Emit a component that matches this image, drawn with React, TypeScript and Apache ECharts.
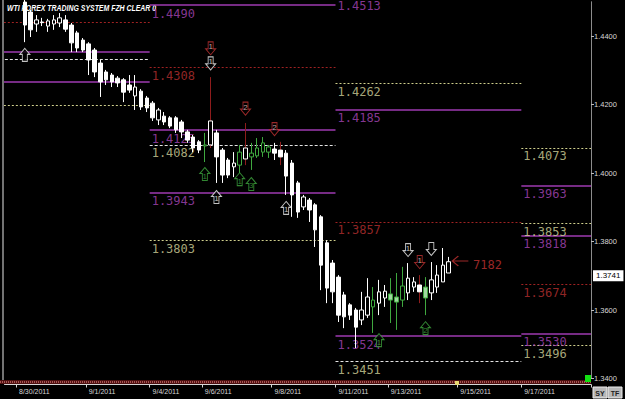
import React, { useEffect, useRef } from 'react';
import * as echarts from 'echarts';

// ---------- data ----------
const TITLE = 'WTI FOREX TRADING SYSTEM FZH CLEAR 0';
const CATEGORY_COUNT = 101; // 4h slots shown on the time axis
const CANDLE_START = 3; // slot of first candle

const opens = [1.4499,1.4470,1.4435,1.4441,1.4429,1.4435,1.4438,1.4447,1.4432,1.4409,
  1.4388,1.4377,1.4359,1.4321,1.4295,1.4286,1.4277,1.4272,1.4257,1.4225,
  1.4239,1.4219,1.4204,1.4155,1.4166,1.4161,1.4161,1.4149,1.4120,1.4105,
  1.4091,1.4082,1.4082,1.4117,1.4067,1.4038,1.4018,1.4023,1.4041,1.4058,
  1.4050,1.4061,1.4076,1.4070,1.4067,1.4058,1.4029,1.3971,1.3901,1.3921,
  1.3907,1.3872,1.3796,1.3737,1.3696,1.3644,1.3615,1.3600,1.3571,1.3585,
  1.3609,1.3620,1.3635,1.3647,1.3638,1.3629,1.3650,1.3667,1.3673,1.3667,
  1.3650,1.3667,1.3682,1.3708];
const closes = [1.4432,1.4418,1.4447,1.4439,1.4444,1.4447,1.4453,1.4420,1.4380,1.4365,
  1.4359,1.4330,1.4295,1.4266,1.4272,1.4266,1.4263,1.4236,1.4242,1.4251,
  1.4193,1.4190,1.4161,1.4184,1.4149,1.4137,1.4126,1.4120,1.4096,1.4073,
  1.4067,1.4079,1.4152,1.4047,1.3994,1.3994,1.4029,1.4061,1.4073,1.4047,
  1.4073,1.4088,1.4061,1.4058,1.4047,1.3991,1.3936,1.3886,1.3930,1.3892,
  1.3834,1.3731,1.3664,1.3653,1.3585,1.3580,1.3585,1.3550,1.3600,1.3638,
  1.3629,1.3653,1.3655,1.3629,1.3623,1.3670,1.3693,1.3682,1.3653,1.3635,
  1.3688,1.3702,1.3731,1.3741];
const lows = [1.4382,1.4397,1.4412,1.4429,1.4412,1.4418,1.4426,1.4412,1.4353,1.4353,
  1.4353,1.4286,1.4280,1.4222,1.4257,1.4251,1.4251,1.4207,1.4234,1.4184,
  1.4184,1.4178,1.4152,1.4140,1.4140,1.4131,1.4117,1.4102,1.4088,1.4061,
  1.4058,1.4032,1.4073,1.3971,1.3971,1.3985,1.3988,1.4000,1.4023,1.4009,
  1.4044,1.4047,1.4044,1.4038,1.4023,1.3936,1.3872,1.3869,1.3892,1.3857,
  1.3784,1.3658,1.3620,1.3620,1.3565,1.3547,1.3571,1.3489,1.3556,1.3577,
  1.3533,1.3585,1.3609,1.3562,1.3542,1.3609,1.3629,1.3653,1.3620,1.3585,
  1.3629,1.3650,1.3682,1.3708];
const highs = [1.4511,1.4476,1.4461,1.4453,1.4450,1.4461,1.4467,1.4461,1.4438,1.4415,
  1.4394,1.4382,1.4365,1.4330,1.4301,1.4292,1.4283,1.4277,1.4286,1.4286,
  1.4245,1.4225,1.4210,1.4190,1.4178,1.4166,1.4166,1.4155,1.4126,1.4111,
  1.4096,1.4117,1.4280,1.4126,1.4073,1.4044,1.4061,1.4082,1.4146,1.4088,
  1.4102,1.4105,1.4082,1.4088,1.4091,1.4067,1.4038,1.3977,1.3936,1.3927,
  1.3912,1.3877,1.3804,1.3746,1.3702,1.3653,1.3620,1.3606,1.3653,1.3693,
  1.3667,1.3688,1.3673,1.3693,1.3708,1.3726,1.3737,1.3696,1.3702,1.3696,
  1.3740,1.3731,1.3781,1.3755];
const greenCandles = [31, 37, 39, 40, 41, 42, 60, 63, 64, 65, 69];
const greenFilled = [63, 64, 69];
const redWickCandles = [32, 38, 44, 68];

const dateTickIdx = [2, 14, 25, 34, 46, 57, 66, 78, 89];
const dateTickLabels = ['8/30/2011', '9/1/2011', '9/4/2011', '9/6/2011', '9/8/2011',
  '9/11/2011', '9/13/2011', '9/15/2011', '9/17/2011'];

const Y_MIN = 1.34;
const Y_MAX = 1.45;
const Y_STEP = 0.02;

// weekly level segments (slot units)
const segStart = [-1.3, 24.5, 56.5, 88.5];
const segEnd = [24.5, 56.5, 88.5, 100.5];
const levelSeg = [0, 0, 0, 0, 0,
  1, 1, 1, 1, 1, 1,
  2, 2, 2, 2, 2, 2,
  3, 3, 3, 3, 3, 3, 3];
const levelPrice = [1.4441, 1.4353, 1.4333, 1.4266, 1.4199,
  1.4490, 1.4308, 1.4125, 1.4082, 1.3943, 1.3803,
  1.4513, 1.4262, 1.4185, 1.3857, 1.3524, 1.3451,
  1.4073, 1.3963, 1.3853, 1.3818, 1.3674, 1.3530, 1.3496];
const levelKind = ['red', 'purple', 'white', 'purple', 'yellow',
  'purple', 'red', 'purple', 'white', 'purple', 'yellow',
  'purple', 'yellow', 'purple', 'red', 'purple', 'white',
  'yellow', 'purple', 'yellow', 'purple', 'red', 'purple', 'yellow'];

const arrowIdx = [3, 35, 35, 41, 46, 34, 36, 40, 42, 48, 69, 73, 71, 72, 64];
const arrowPrice = [1.4345, 1.4364, 1.4320, 1.4188, 1.4128, 1.3997, 1.3930, 1.3982,
  1.3968, 1.3898, 1.3775, 1.3778, 1.3740, 1.3547, 1.3512];
const arrowDir = ['up', 'down', 'down', 'down', 'down', 'up', 'up', 'up', 'up', 'up',
  'down', 'down', 'down', 'up', 'up'];
const arrowColor = ['white', 'red', 'white', 'red', 'red', 'green', 'white', 'green',
  'green', 'white', 'white', 'white', 'red', 'green', 'green'];
const arrowDigit = ['', '1', '1', '2', '2', '1', '1', '1', '3', '1', '1', '', '1', '2', '1'];

const lastPrice = 1.3741;
const signalIdx = 78;
const signalPrice = 1.3743;
const signalText = '7182';

// ---------- styles ----------
const COL: Record<string, string> = {
  white: '#f2f2f2',
  red: '#c23232',
  green: '#3fa83f',
  purple: '#a43db6',
  yellow: '#d3d394',
};
const LINE_STYLE: Record<string, any> = {
  purple: { color: '#9e3ab0', width: 1.5, type: 'solid' },
  red: { color: '#a02222', width: 1, type: [2, 2] },
  yellow: { color: '#cfcf8c', width: 1, type: [2, 2] },
  white: { color: '#e4e4e4', width: 1, type: [3, 2] },
};
const LABEL_COLOR: Record<string, string> = {
  purple: '#a846b9',
  red: '#b83030',
  yellow: '#d4d49c',
  white: '#d4d49c',
};
const UP_ARROW = 'path://M5,0 L10,6 L7.5,6 L7.5,13 L2.5,13 L2.5,6 L0,6 Z';
const DOWN_ARROW = 'path://M2.5,0 L7.5,0 L7.5,7 L10,7 L5,13 L0,7 L2.5,7 Z';
const LEFT_ARROW = 'path://M6,0 L0,5 L6,10 M0,5 L16,5';
const LCD_FONT = 'DejaVu Sans Mono';

function buildOption() {
  const categories = Array.from({ length: CATEGORY_COUNT }, (_, i) => String(i));
  const labelMap = new Map<number, string>();
  dateTickIdx.forEach((k, j) => labelMap.set(k, dateTickLabels[j]));

  const candleData = opens.map((o, i) => {
    const c = closes[i];
    const isRed = redWickCandles.includes(i);
    const hi = isRed ? Math.max(o, c) : highs[i];
    const lo = isRed ? Math.min(o, c) : lows[i];
    const item: any = { value: [i + CANDLE_START, o, c, lo, hi] };
    if (greenCandles.includes(i)) {
      item.itemStyle = {
        borderColor: COL.green,
        borderColor0: COL.green,
        color0: greenFilled.includes(i) ? '#9fd89f' : '#000',
      };
    }
    return item;
  });
  const redWickData = redWickCandles.map((i) => ({
    value: [i + CANDLE_START, opens[i], closes[i], lows[i], highs[i]],
  }));

  const levelLines = levelPrice.map((p, j) => ({
    coords: [[segStart[levelSeg[j]], p], [segEnd[levelSeg[j]], p]],
    lineStyle: { ...LINE_STYLE[levelKind[j]], opacity: 1 },
  }));
  const levelLabels = levelPrice
    .map((p, j) => ({ p, j }))
    .filter(({ j }) => levelSeg[j] > 0)
    .map(({ p, j }) => ({
      value: [segStart[levelSeg[j]], p],
      label: {
        show: true,
        position: 'right',
        distance: 1.5,
        offset: [0, 8.5],
        formatter: p.toFixed(4),
        color: LABEL_COLOR[levelKind[j]],
        fontFamily: LCD_FONT,
        fontSize: 12,
        lineHeight: 10,
      },
    }));

  const arrows = arrowIdx.map((k, j) => {
    const up = arrowDir[j] === 'up';
    const col = COL[arrowColor[j]];
    return {
      value: [k, arrowPrice[j]],
      symbol: up ? UP_ARROW : DOWN_ARROW,
      itemStyle: { color: '#000', borderColor: col, borderWidth: 1 },
      label: {
        show: arrowDigit[j] !== '',
        formatter: arrowDigit[j],
        position: 'inside',
        offset: [0, up ? 2 : -1.5],
        color: arrowColor[j] === 'red' ? '#f0c8c8' : col,
        fontSize: 8,
        lineHeight: 8,
        fontFamily: 'Arial',
      },
    };
  });

  return {
    animation: false,
    backgroundColor: '#000',
    grid: { left: 4.5, top: 1.75, width: 586.5, height: 376.75, containLabel: false },
    xAxis: [
      {
        type: 'category',
        data: categories,
        boundaryGap: true,
        offset: 6,
        axisLine: { show: true, onZero: false, lineStyle: { color: '#d6d6d6', width: 1 } },
        axisTick: {
          show: true,
          length: 3,
          interval: (i: number) => labelMap.has(i),
          lineStyle: { color: '#d6d6d6' },
        },
        axisLabel: {
          interval: 0,
          formatter: (_v: string, i: number) => labelMap.get(i) ?? '',
          align: 'left',
          color: '#d8d8d8',
          fontSize: 7,
          fontFamily: 'Arial',
          margin: 3,
        },
        splitLine: { show: false },
        splitArea: { show: false },
      },
      {
        type: 'value', min: -0.5, max: CATEGORY_COUNT - 0.5, show: false,
        axisLine: { show: false, onZero: false }, splitLine: { show: false },
      },
    ],
    yAxis: {
      type: 'value',
      position: 'right',
      min: Y_MIN,
      max: Y_MAX,
      interval: Y_STEP,
      axisLine: { show: true, onZero: false, lineStyle: { color: '#8c8c8c' } },
      axisTick: { show: true, length: 3, lineStyle: { color: '#bdbdbd' } },
      axisLabel: {
        color: '#d8d8d8',
        fontSize: 7.5,
        fontFamily: 'Arial',
        margin: 3,
        showMaxLabel: false,
        formatter: (v: number) => v.toFixed(4),
      },
      splitLine: { show: false },
    },
    graphic: [
      {
        type: 'text', x: 7, y: 3, scaleX: 0.73, z: 0,
        style: { text: TITLE, fill: '#ffffff', fontSize: 9.5, fontWeight: 'bold', fontStyle: 'italic', fontFamily: 'Arial' },
      },
      { type: 'line', z: 0, shape: { x1: 3, y1: 0, x2: 3, y2: 384 }, style: { stroke: '#e6e6e6', lineWidth: 1 } },
      { type: 'rect', z: 0, shape: { x: 0, y: 380, width: 591, height: 4 }, style: { fill: '#4c1010' } },
      { type: 'line', z: 0, shape: { x1: 0, y1: 382, x2: 591, y2: 382 }, style: { stroke: '#a85454', lineWidth: 2, lineDash: [1, 1] } },
      { type: 'rect', z: 5, shape: { x: 455, y: 381, width: 4, height: 4 }, style: { fill: '#e8d870' } },
      { type: 'rect', z: 5, shape: { x: 585, y: 375, width: 6, height: 7 }, style: { fill: '#12e012' } },
      { type: 'rect', z: 5, shape: { x: 593, y: 387, width: 14, height: 11 }, style: { fill: '#b8b8b8', stroke: '#eeeeee', lineWidth: 1 } },
      { type: 'rect', z: 5, shape: { x: 608, y: 387, width: 14, height: 11 }, style: { fill: '#b8b8b8', stroke: '#eeeeee', lineWidth: 1 } },
      { type: 'text', z: 6, x: 600, y: 393, style: { text: 'SY', fill: '#202020', fontSize: 7, fontWeight: 'bold', fontFamily: 'Arial', align: 'center', verticalAlign: 'middle' } },
      { type: 'text', z: 6, x: 615, y: 393, style: { text: 'TF', fill: '#202020', fontSize: 7, fontWeight: 'bold', fontFamily: 'Arial', align: 'center', verticalAlign: 'middle' } },
    ],
    series: [
      {
        type: 'lines',
        coordinateSystem: 'cartesian2d',
        xAxisIndex: 1,
        yAxisIndex: 0,
        silent: true,
        z: 1,
        data: levelLines,
      },
      {
        type: 'scatter',
        xAxisIndex: 1,
        yAxisIndex: 0,
        symbolSize: 1,
        clip: false,
        silent: true,
        z: 1,
        itemStyle: { color: 'rgba(0,0,0,0)' },
        data: levelLabels,
      },
      {
        type: 'candlestick',
        xAxisIndex: 0,
        yAxisIndex: 0,
        barWidth: 1,
        z: 2,
        silent: true,
        encode: { x: 0, y: [1, 2, 3, 4] },
        itemStyle: { color: '#8e1c1c', color0: '#8e1c1c', borderColor: '#8e1c1c', borderColor0: '#8e1c1c', borderWidth: 1 },
        data: redWickData,
      },
      {
        type: 'candlestick',
        xAxisIndex: 0,
        yAxisIndex: 0,
        barWidth: 4,
        z: 3,
        silent: true,
        encode: { x: 0, y: [1, 2, 3, 4] },
        itemStyle: { color: '#000', color0: '#ffffff', borderColor: '#ffffff', borderColor0: '#ffffff', borderWidth: 1 },
        data: candleData,
        markLine: {
          silent: true,
          symbol: ['none', 'none'],
          lineStyle: { color: 'rgba(0,0,0,0)', width: 0 },
          label: {
            show: true,
            position: 'end',
            distance: 2,
            formatter: lastPrice.toFixed(4),
            backgroundColor: '#ffffff',
            color: '#000',
            fontSize: 8,
            fontFamily: 'Arial',
            padding: [2, 3, 1, 3],
          },
          data: [{ yAxis: lastPrice }],
        },
      },
      {
        type: 'scatter',
        xAxisIndex: 1,
        yAxisIndex: 0,
        symbolSize: [10, 13],
        clip: false,
        silent: true,
        z: 4,
        data: arrows,
      },
      {
        type: 'scatter',
        xAxisIndex: 1,
        yAxisIndex: 0,
        symbolSize: [16, 10],
        clip: false,
        silent: true,
        z: 4,
        data: [{
          value: [signalIdx, signalPrice],
          symbol: LEFT_ARROW,
          itemStyle: { color: 'rgba(0,0,0,0)', borderColor: COL.red, borderWidth: 1.2 },
          label: {
            show: true, position: 'right', distance: 4, offset: [0, 4],
            formatter: signalText, color: COL.red, fontFamily: LCD_FONT, fontSize: 12,
          },
        }],
      },
    ],
  };
}

export default function App() {
  const ref = useRef<HTMLDivElement>(null);
  useEffect(() => {
    document.body.style.margin = '0';
    document.body.style.background = '#000';
    if (!ref.current) return;
    const chart = echarts.init(ref.current, undefined, { renderer: 'svg' });
    chart.setOption(buildOption() as any);
    return () => chart.dispose();
  }, []);
  return (
    <div
      ref={ref}
      style={{ position: 'absolute', left: 0, top: 0, width: 625, height: 399, background: '#000' }}
    />
  );
}
